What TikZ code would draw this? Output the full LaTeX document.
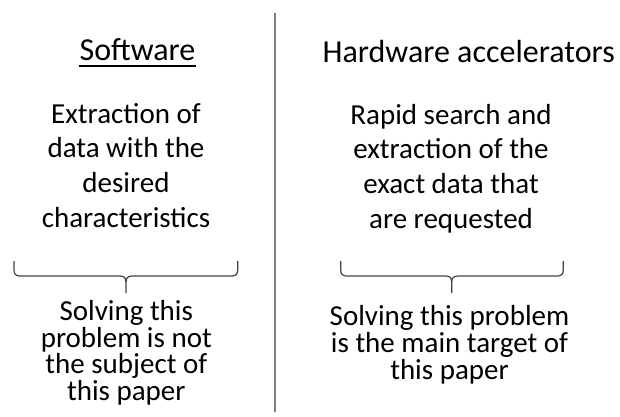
\documentclass[tikz,border=0pt]{standalone}
\usepackage{fontspec}
\setmainfont{Carlito}
\tikzset{
  title/.style={inner sep=0pt, anchor=base, font=\fontsize{32}{38}\selectfont},
  body/.style={inner sep=0pt, anchor=base, align=center, font=\fontsize{29}{34.6}\selectfont},
  note/.style={inner sep=0pt, anchor=base, align=center, font=\fontsize{29}{26.6}\selectfont},
  bracket/.style={draw=black!75, line width=1.2pt, line join=round},
  divider/.style={draw=black!50, line width=2pt}
}
% horizontal curly bracket opening upwards, tip pointing down
\newcommand{\downbrace}[3]{% left x, right x, middle x
  \draw[bracket] (#1,261) -- (#1,270) .. controls (#1,274) and (#1+2,276) .. (#1+6,276)
    -- (#3-6,276) .. controls (#3-2,276) and (#3,278) .. (#3,282) -- (#3,293);
  \draw[bracket] (#2,261) -- (#2,270) .. controls (#2,274) and (#2-2,276) .. (#2-6,276)
    -- (#3+6,276) .. controls (#3+2,276) and (#3,278) .. (#3,282);
}
\begin{document}
\begin{tikzpicture}[x=1pt, y=-1pt]
  \useasboundingbox (0,0) rectangle (620,416);

  % column divider
  \coordinate (dtop) at (274.7,13);
  \coordinate (dbot) at (274.7,412);
  \draw[divider] (dtop) -- (dbot);

  % column titles
  \node[title] (sw) at (137.5,60.5) {Software};
  \draw[line width=1.4pt] ([yshift=-5.5pt]sw.base west) -- ([yshift=-5.5pt]sw.base east);
  \node[title] (hw) at (468.7,62.5) {Hardware accelerators};

  % descriptions (anchored at the baseline of their last line)
  \node[body] (swbody) at (126,227) {Extraction of\\data with the\\desired\\characteristics};
  \node[body] (hwbody) at (451,228) {Rapid search and\\extraction of the\\exact data that\\are requested};

  % brackets
  \downbrace{14}{237.7}{126}
  \downbrace{340.7}{563.3}{451.7}

  % remarks
  \node[note] (swnote) at (126.3,400.5) {Solving this\\problem is not\\the subject of\\this paper};
  \node[note] (hwnote) at (449.5,379) {Solving this problem\\is the main target of\\this paper};
\end{tikzpicture}
\end{document}
